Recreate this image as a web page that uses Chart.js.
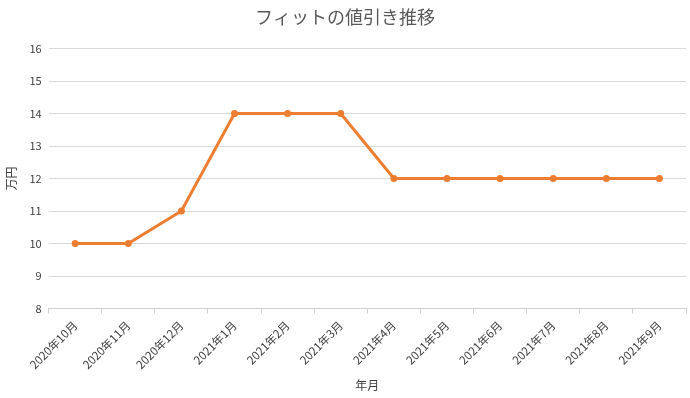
<!DOCTYPE html>
<html>
<head>
<meta charset="utf-8">
<script src="https://cdn.jsdelivr.net/npm/chart.js@4"></script>
<style>
  html, body { margin: 0; padding: 0; background: #fff; }
  #wrap { width: 690px; height: 398px; }
</style>
</head>
<body>
<div id="wrap"><canvas id="myChart"></canvas></div>
<script>
// データ
const months = ['2020年10月', '2020年11月', '2020年12月', '2021年1月', '2021年2月', '2021年3月',
                '2021年4月', '2021年5月', '2021年6月', '2021年7月', '2021年8月', '2021年9月'];
const discount = [10, 10, 11, 14, 14, 14, 12, 12, 12, 12, 12, 12];
const yMin = 8;
const yMax = 16;

const fontJP = "'Noto Sans CJK JP', 'Noto Sans', sans-serif";
const textColor = '#595959';

new Chart(document.getElementById('myChart'), {
    type: 'line',
    data: {
        labels: months,
        datasets: [{
            label: '値引き',
            data: discount,
            borderColor: '#ED7D31',
            backgroundColor: '#ED7D31',
            borderWidth: 3,
            pointRadius: 3.5,
            pointBorderWidth: 0,
            tension: 0
        }]
    },
    options: {
        responsive: true,
        maintainAspectRatio: false,
        animation: false,
        layout: { padding: { left: 4, right: 4, top: 4, bottom: 5 } },
        plugins: {
            legend: { display: false },
            tooltip: { enabled: false },
            title: {
                display: true,
                text: 'フィットの値引き推移',
                color: textColor,
                font: { family: fontJP, size: 18, weight: 'normal' },
                padding: { top: 2, bottom: 21 }
            }
        },
        scales: {
            x: {
                offset: true,
                grid: {
                    offset: true,
                    drawOnChartArea: false,
                    drawTicks: true,
                    tickLength: 5,
                    color: '#d0d0d0'
                },
                border: { color: '#d0d0d0' },
                ticks: {
                    color: '#404040',
                    font: { family: fontJP, size: 11.5 },
                    minRotation: 45,
                    maxRotation: 45,
                    autoSkip: false,
                    padding: 5
                },
                title: {
                    display: true,
                    text: '年月',
                    color: '#404040',
                    font: { family: fontJP, size: 12 },
                    padding: { top: 2, bottom: 0 }
                }
            },
            y: {
                min: yMin,
                max: yMax,
                grid: {
                    color: '#d9d9d9',
                    drawTicks: false
                },
                border: { display: false },
                ticks: {
                    stepSize: 1,
                    color: '#404040',
                    font: { family: fontJP, size: 11 },
                    padding: 7
                },
                title: {
                    display: true,
                    text: '万円',
                    color: '#404040',
                    font: { family: fontJP, size: 12 },
                    padding: { top: 0, bottom: 4 }
                }
            }
        }
    }
});
</script>
</body>
</html>
